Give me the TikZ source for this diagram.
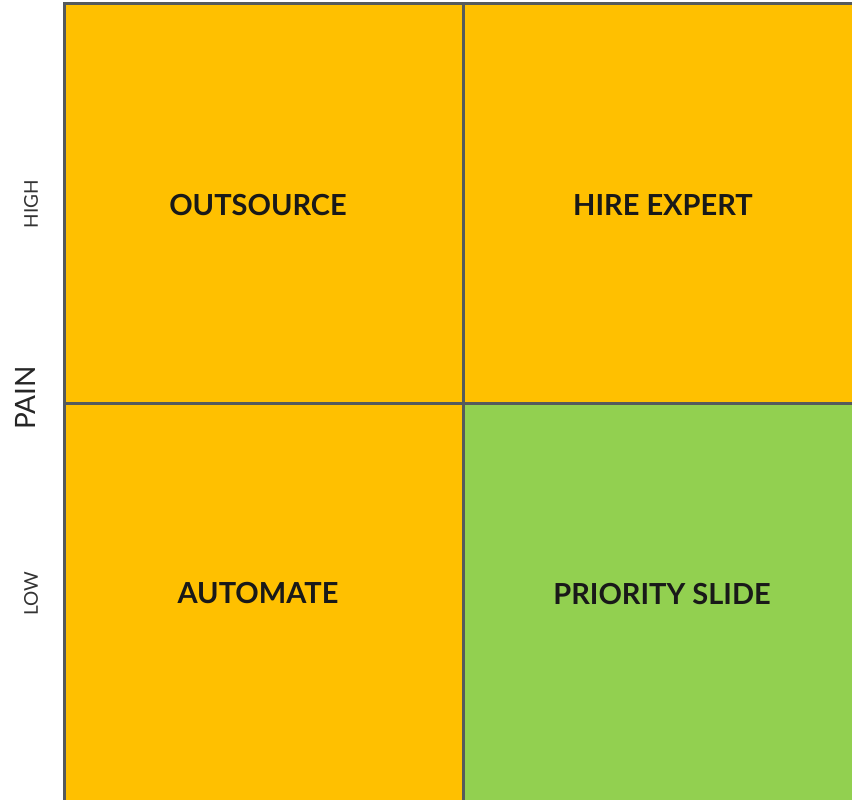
\documentclass[tikz,border=0pt]{standalone}
\usepackage{fontspec}
\setmainfont{Lato}
\definecolor{cellorange}{HTML}{FFC000}
\definecolor{cellgreen}{HTML}{92D050}
\definecolor{gridgray}{HTML}{555A5C}
\definecolor{axisgray}{HTML}{333333}
\begin{document}
\begin{tikzpicture}[x=1pt,y=-1pt,
  cell/.style={draw=gridgray,line width=3pt},
  celltext/.style={font=\fontsize{29}{34}\selectfont\bfseries,text=black!90},
  axistext/.style={font=\fontsize{19}{23}\selectfont,text=axisgray,rotate=90},
  axisbig/.style={font=\fontsize{28}{33}\selectfont,text=black!85,rotate=90}]
\useasboundingbox (0,0) rectangle (852,800);
\clip (0,0) rectangle (852,800);
\fill[white] (0,0) rectangle (852,800);
\fill[cellorange] (64,4) rectangle (463,403);
\fill[cellorange] (463,4) rectangle (862,403);
\fill[cellorange] (64,403) rectangle (463,802);
\fill[cellgreen] (463,403) rectangle (862,802);
\draw[cell] (64,4) rectangle (862,802);
\draw[cell] (463,4) -- (463,802);
\draw[cell] (64,403) -- (862,403);
\node[celltext] (outsource) at (258,205) {OUTSOURCE};
\node[celltext] (hire) at (663,205) {HIRE EXPERT};
\node[celltext] (automate) at (258,593) {AUTOMATE};
\node[celltext] (priority) at (662,594) {PRIORITY SLIDE};
\node[axistext] (high) at (31,204) {HIGH};
\node[axisbig] (pain) at (25,398) {PAIN};
\node[axistext] (low) at (31,594) {LOW};
\end{tikzpicture}
\end{document}
